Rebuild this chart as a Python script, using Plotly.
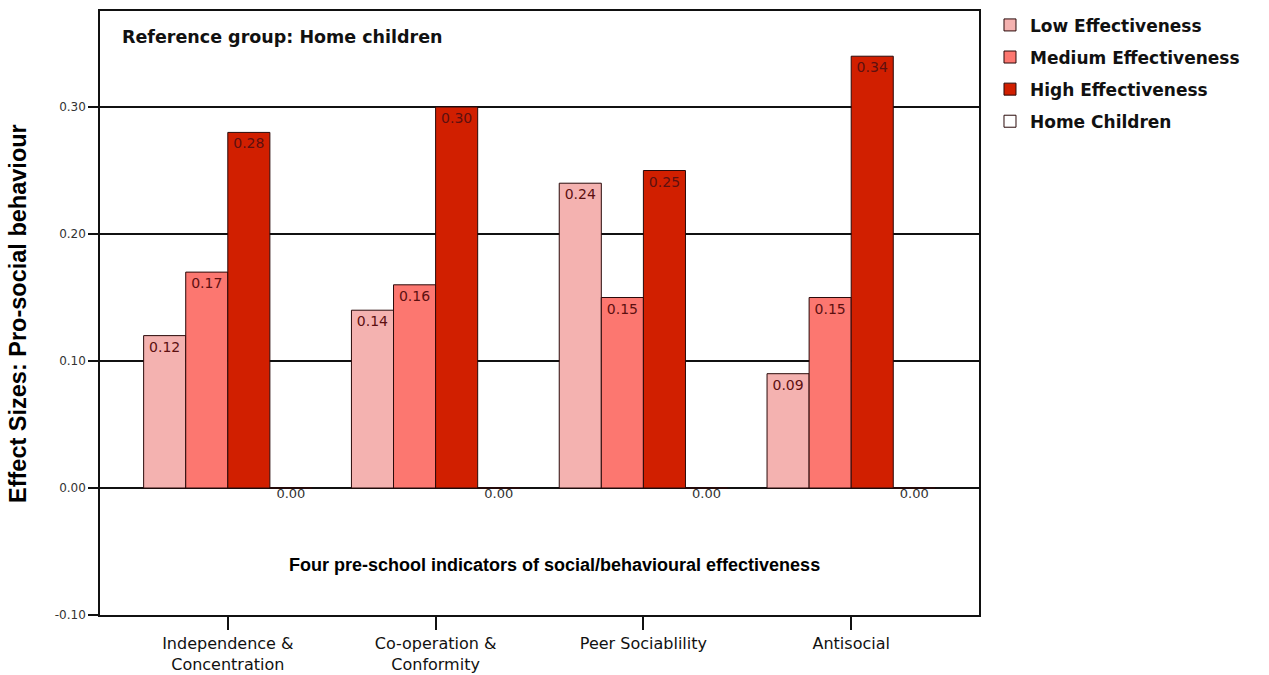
import plotly.graph_objects as go

# Four pre-school indicators (x categories)
categories = [
    "Independence &<br>Concentration",
    "Co-operation &<br>Conformity",
    "Peer Sociablility",
    "Antisocial",
]

# Effect sizes relative to home children
low_effect = [0.12, 0.14, 0.24, 0.09]
medium_effect = [0.17, 0.16, 0.15, 0.15]
high_effect = [0.28, 0.30, 0.25, 0.34]
home_children = [0.00, 0.00, 0.00, 0.00]

series_names = ["Low Effectiveness", "Medium Effectiveness", "High Effectiveness", "Home Children"]
series_values = [low_effect, medium_effect, high_effect, home_children]
series_colors = ["#f4b2b0", "#fc7770", "#d11f00", "#ffffff"]

y_tick_values = [-0.10, 0.00, 0.10, 0.20, 0.30]
y_tick_labels = ["-0.10", "0.00", "0.10", "0.20", "0.30"]

BAR_GAP = 0.19
x_pos = list(range(len(categories)))

fig = go.Figure()

for i, (name, vals, col) in enumerate(zip(series_names, series_values, series_colors)):
    is_home = name == "Home Children"
    fig.add_trace(go.Bar(
        x=x_pos,
        y=vals,
        name=name,
        legendgroup=name,
        marker=dict(color=col, line=dict(color="#2a0a0a", width=1)),
        text=None if is_home else [f"{v:.2f}" for v in vals],
        textposition="none" if is_home else "inside",
        insidetextanchor="end",
        textangle=0,
        constraintext="none",
        insidetextfont=dict(family="DejaVu Sans", size=14, color="#5c1010"),
        hoverinfo="skip",
    ))

# Value labels for the zero-height home-children bars, placed under the axis
n_series = len(series_names)
bar_w = (1 - BAR_GAP) / n_series
home_offset = (n_series - 1) / 2 * bar_w
fig.add_trace(go.Scatter(
    x=[p + home_offset for p in x_pos],
    y=home_children,
    mode="text",
    text=[f"{v:.2f}" for v in home_children],
    textposition="bottom center",
    textfont=dict(family="DejaVu Sans", size=13, color="#333333"),
    showlegend=False,
    hoverinfo="skip",
    cliponaxis=False,
))

fig.update_layout(
    width=1269,
    height=675,
    margin=dict(l=100, r=290, t=11, b=60, autoexpand=False),
    paper_bgcolor="white",
    plot_bgcolor="white",
    barmode="group",
    bargap=BAR_GAP,
    bargroupgap=0,
    showlegend=True,
    legend=dict(
        x=1.0125, y=1.006, xanchor="left", yanchor="top",
        font=dict(family="DejaVu Sans", size=17, color="#111111", weight="bold"),
        traceorder="grouped",
        tracegroupgap=7,
        bgcolor="rgba(0,0,0,0)",
    ),
    xaxis=dict(
        range=[-0.615, 3.615],
        tickvals=x_pos,
        ticktext=categories,
        ticks="outside",
        ticklen=13,
        tickcolor="#111111",
        tickwidth=1.5,
        tickfont=dict(family="DejaVu Sans", size=16, color="#111111"),
        showgrid=False,
        zeroline=False,
        showline=True,
        mirror=True,
        linecolor="#111111",
        linewidth=1.5,
        automargin=False,
    ),
    yaxis=dict(
        range=[-0.10, 0.3756],
        tickvals=y_tick_values,
        ticktext=y_tick_labels,
        ticks="outside",
        ticklen=10,
        tickcolor="#111111",
        tickwidth=1.5,
        tickfont=dict(family="DejaVu Sans", size=12, color="#333333"),
        showgrid=True,
        gridcolor="#111111",
        gridwidth=1.5,
        zeroline=True,
        zerolinecolor="#111111",
        zerolinewidth=1.5,
        showline=True,
        mirror=True,
        linecolor="#111111",
        linewidth=1.5,
        automargin=False,
    ),
    annotations=[
        dict(
            text="Reference group: Home children",
            xref="paper", yref="paper", x=0.0228, y=0.957,
            xanchor="left", yanchor="middle", showarrow=False,
            font=dict(family="DejaVu Sans", size=17.5, color="#111111", weight="bold"),
        ),
        dict(
            text="Four pre-school indicators of social/behavioural effectiveness",
            xref="paper", yref="paper", x=0.5176, y=0.0828,
            xanchor="center", yanchor="middle", showarrow=False,
            font=dict(family="Liberation Sans", size=18, color="#000000", weight="bold"),
        ),
        dict(
            text="Effect Sizes: Pro-social behaviour",
            xref="paper", yref="paper", x=-0.0933, y=0.5,
            xanchor="center", yanchor="middle", showarrow=False, textangle=-90,
            font=dict(family="Liberation Sans", size=23.5, color="#000000", weight="bold"),
        ),
    ],
)

fig.write_html("out.html")
